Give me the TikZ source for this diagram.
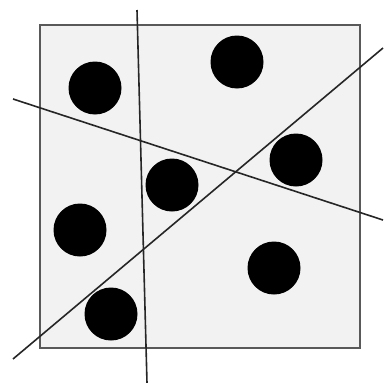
\documentclass[tikz,border=0pt]{standalone}
\begin{document}
\begin{tikzpicture}[x=1pt,y=-1pt,
  dot/.style={fill=black,draw=none},
  cut/.style={draw=black!85,line width=1.6pt}]
\useasboundingbox (0,0) rectangle (386,383);
\draw[fill=black!5,draw=black!65,line width=2.4pt] (40,25) rectangle (360,348);
\foreach \n/\x/\y in {a/95/88,b/237/62,c/296/160,d/172/185,e/80/230,f/274/268,g/111/314}
  \fill[dot] (\x,\y) circle (26.5);
\coordinate (v1) at (137,10); \coordinate (v2) at (147,383);
\coordinate (h1) at (13,99);  \coordinate (h2) at (383,220);
\coordinate (d1) at (13,359); \coordinate (d2) at (383,48);
\draw[cut] (v1) -- (v2);
\draw[cut] (h1) -- (h2);
\draw[cut] (d1) -- (d2);
\end{tikzpicture}
\end{document}
